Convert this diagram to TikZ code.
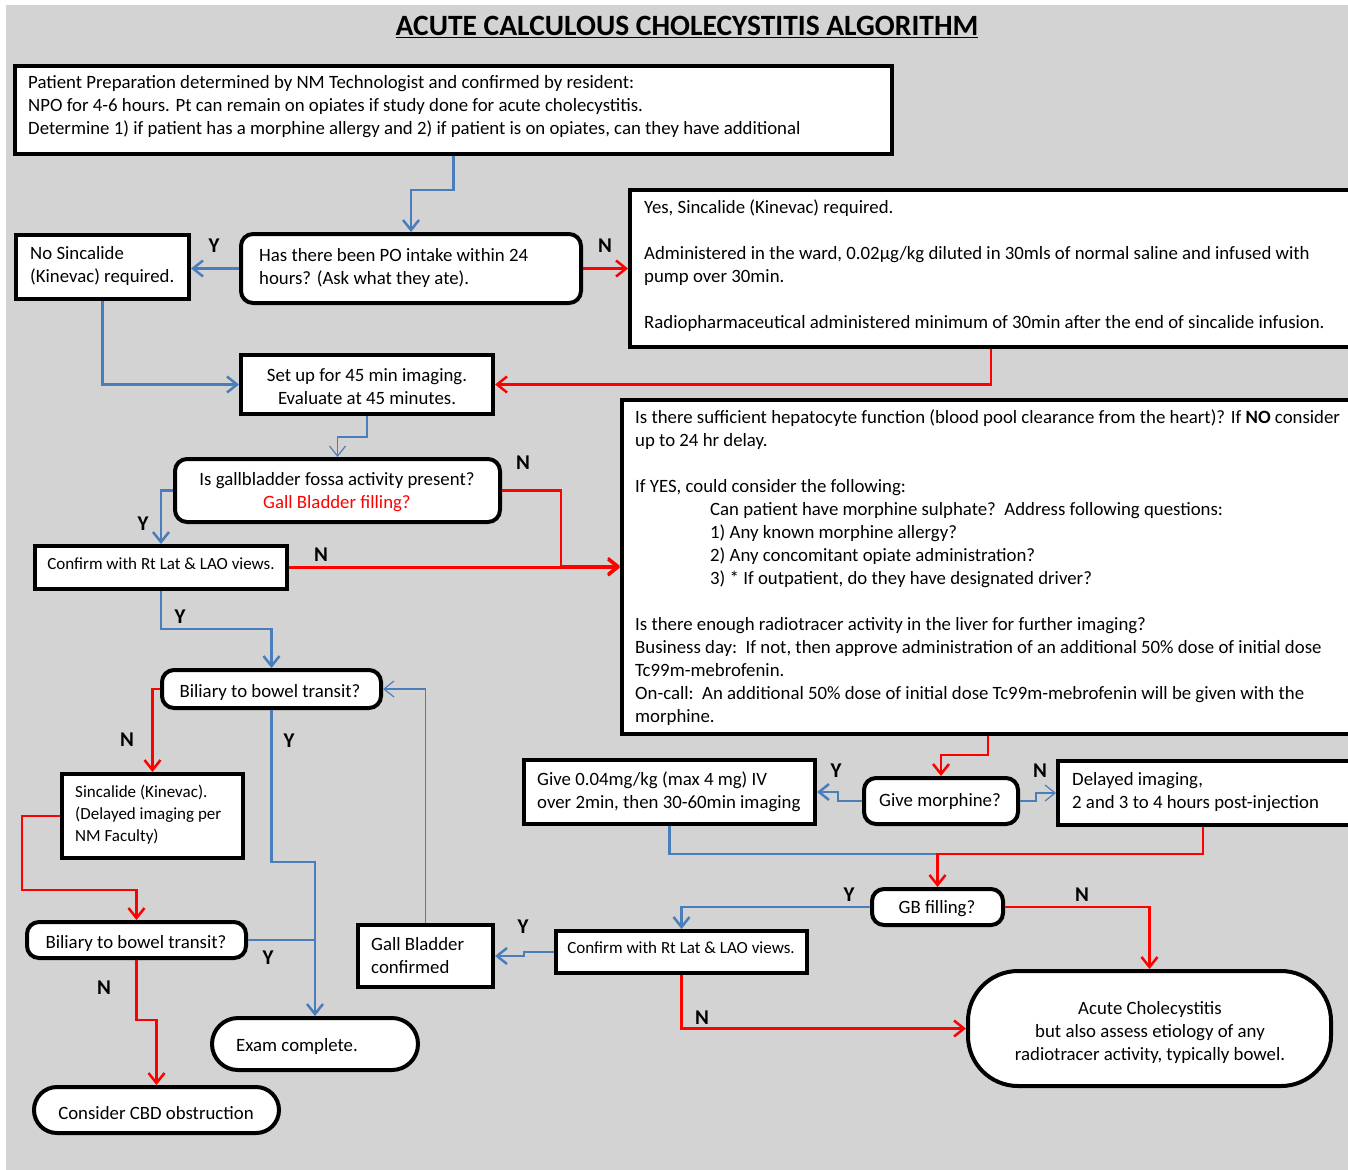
\documentclass[tikz,border=0pt]{standalone}
\usepackage{fontspec}
\setmainfont{Carlito}
\usetikzlibrary{arrows.meta}
\definecolor{bgc}{HTML}{D3D3D3}
\definecolor{lblue}{HTML}{4A7EBB}
\definecolor{lred}{HTML}{FF0000}
\begin{document}
\begin{tikzpicture}[x=1pt,y=-1pt,
  boxs/.style={draw=black, line width=4pt, fill=white, inner sep=0pt},
  rboxs/.style={boxs, rounded corners=12pt},
  tx/.style={inner sep=0pt, yshift=-2pt, font=\fontsize{18.8}{23}\selectfont},
  txs/.style={inner sep=0pt, yshift=-1pt, font=\fontsize{17}{22}\selectfont},
  lab/.style={inner sep=0pt, font=\fontsize{21}{24}\selectfont\bfseries},
  tip/.style={-{Straight Barb[length=10pt,width=16pt]}},
  bl/.style={draw=lblue, line width=2.5pt, tip},
  bln/.style={draw=lblue, line width=2.5pt},
  blt/.style={draw=lblue, line width=1.2pt, tip},
  rd/.style={draw=lred, line width=2.5pt, tip},
  rdn/.style={draw=lred, line width=2.5pt}
]
\useasboundingbox (0,0) rectangle (1348,1169);
\fill[bgc] (6,5) rectangle (1360,1180);

% title
\node[inner sep=0pt, font=\fontsize{29.5}{32}\selectfont\bfseries] (title) at (687,27) {\underline{ACUTE CALCULOUS CHOLECYSTITIS ALGORITHM}};

% boxes
\node[boxs, minimum width=877pt, minimum height=88pt] (prep) at (453.5,110) {};
\node[tx, anchor=west, align=left] (prept) at (28,105) {Patient Preparation determined by NM Technologist and confirmed by resident:\\ NPO for 4-6 hours. Pt can remain on opiates if study done for acute cholecystitis.\\ Determine 1) if patient has a morphine allergy and 2) if patient is on opiates, can they have additional};

\node[rboxs, minimum width=340pt, minimum height=69pt] (po) at (411,268.5) {};
\node[tx, anchor=west, align=left] (pot) at (259,265.5) {Has there been PO intake within 24\\ hours? (Ask what they ate).};

\node[boxs, minimum width=173pt, minimum height=64pt] (nosinc) at (102.5,267) {};
\node[tx, anchor=west, align=left] (nosinct) at (30,263.5) {No Sincalide\\ (Kinevac) required.};

\node[boxs, minimum width=740pt, minimum height=157pt] (yessinc) at (1000,268.5) {};
\node[tx, anchor=west, align=left] (yessinct) at (644,264) {Yes, Sincalide (Kinevac) required.\\[23pt] Administered in the ward, 0.02µg/kg diluted in 30mls of normal saline and infused with\\ pump over 30min.\\[23pt] Radiopharmaceutical administered minimum of 30min after the end of sincalide infusion.};

\node[boxs, minimum width=252pt, minimum height=59pt] (setup) at (367,384.5) {};
\node[tx, align=center] (setupt) at (367,384.5) {Set up for 45 min imaging.\\ Evaluate at 45 minutes.};

\node[rboxs, minimum width=325pt, minimum height=63pt] (gbq) at (337.5,490.5) {};
\node[tx, align=center] (gbqt) at (337,490.5) {Is gallbladder fossa activity present?\\ \textcolor{lred}{Gall Bladder filling?}};

\node[boxs, minimum width=252pt, minimum height=43pt] (conf1) at (161,567.5) {};
\node[txs] (conf1t) at (161,563) {Confirm with Rt Lat \& LAO views.};

\node[boxs, minimum width=748pt, minimum height=334pt] (big) at (996,567) {};
\node[tx, anchor=west, align=left] (bigt) at (635,566) {Is there sufficient hepatocyte function (blood pool clearance from the heart)? If \textbf{NO} consider\\ up to 24 hr delay.\\[23pt] If YES, could consider the following:\\ \hspace*{75pt}Can patient have morphine sulphate?\ \ Address following questions:\\ \hspace*{75pt}1) Any known morphine allergy?\\ \hspace*{75pt}2) Any concomitant opiate administration?\\ \hspace*{75pt}3) * If outpatient, do they have designated driver?\\[23pt] Is there enough radiotracer activity in the liver for further imaging?\\ Business day:\ \ If not, then approve administration of an additional 50\% dose of initial dose\\ Tc99m-mebrofenin.\\ On-call:\ \ An additional 50\% dose of initial dose Tc99m-mebrofenin will be given with the\\ morphine.};

\node[rboxs, minimum width=219pt, minimum height=38pt] (bil1) at (271.5,689) {};
\node[tx] (bil1t) at (270,690) {Biliary to bowel transit?};

\node[boxs, minimum width=181pt, minimum height=84pt] (sinc2) at (152.5,816) {};
\node[txs, anchor=west, align=left] (sinc2t) at (75,813.5) {Sincalide (Kinevac).\\ (Delayed imaging per\\ NM Faculty)};

\node[rboxs, minimum width=219pt, minimum height=36pt] (bil2) at (136.5,940) {};
\node[tx] (bil2t) at (136,941) {Biliary to bowel transit?};

\node[boxs, rounded corners=26pt, minimum width=206pt, minimum height=52pt] (exam) at (315,1044) {};
\node[tx, anchor=west] (examt) at (236,1044) {Exam complete.};

\node[boxs, rounded corners=23pt, minimum width=245pt, minimum height=46pt] (cbd) at (156.5,1110) {};
\node[tx] (cbdt) at (156,1111) {Consider CBD obstruction};

\node[boxs, minimum width=135pt, minimum height=62pt] (gbconf) at (425.5,956) {};
\node[tx, anchor=west, align=left] (gbconft) at (371,953.5) {Gall Bladder\\ confirmed};

\node[boxs, minimum width=251pt, minimum height=42pt] (conf2) at (681.5,952) {};
\node[txs] (conf2t) at (681,947) {Confirm with Rt Lat \& LAO views.};

\node[boxs, minimum width=291pt, minimum height=64pt] (give) at (669.5,792) {};
\node[tx, anchor=west, align=left] (givet) at (537,789.5) {Give 0.04mg/kg (max 4 mg) IV\\ over 2min, then 30-60min imaging};

\node[rboxs, minimum width=154pt, minimum height=46pt] (morph) at (941,801) {};
\node[tx] (morpht) at (940,799) {Give morphine?};

\node[boxs, minimum width=312pt, minimum height=64pt] (delayed) at (1214,793) {};
\node[tx, anchor=west, align=left] (delayedt) at (1072,790.5) {Delayed imaging,\\ 2 and 3 to 4 hours post-injection};

\node[rboxs, minimum width=131pt, minimum height=36pt] (gbf) at (937.5,907) {};
\node[tx] (gbft) at (937,907) {GB filling?};

\node[boxs, rounded corners=50pt, minimum width=363pt, minimum height=115pt] (acute) at (1149.5,1028.5) {};
\node[tx, align=center] (acutet) at (1150,1030) {Acute Cholecystitis\\ but also assess etiology of any\\ radiotracer activity, typically bowel.};

% connectors
\draw[bl] (prep.south) -- (prep.south |- 0,190) -| (po.north);
\draw[bl] (po.west) -- (po.west -| nosinc.east);
\draw[rd] (po.east) -- (po.east -| yessinc.west);
\draw[bl] (nosinc.south) |- (setup.west);
\draw[rd] (yessinc.south -| 991,0) |- (setup.east);
\draw[blt] (setup.south) -- (setup.south |- 0,437) -| (gbq.north);
\draw[bl] (gbq.west) -| (conf1.north);
\draw[rd] (gbq.east) -| (561,566) -- (big.west |- 0,566);
\draw[rd] (conf1.east) -- (conf1.east -| big.west);
\draw[bl] (conf1.south) -- (conf1.south |- 0,629) -| (bil1.north);
\draw[blt] (gbconf.north) |- (bil1.east);
\draw[rd] (bil1.west) -| (sinc2.north);
\draw[bl] (bil1.south) -- (bil1.south |- 0,862) -| (exam.north);
\draw[rd] (sinc2.west) -| (22,890) -| (bil2.north);
\draw[bln] (bil2.east) -- (bil2.east -| exam.north);
\draw[rd] (bil2.south) -- (bil2.south |- 0,1020) -| (cbd.north);
\draw[rd] (big.south -| 988,0) -- (988,755) -| (morph.north);
\draw[bl] (morph.west) -- (838,801) |- (give.east);
\draw[blt] (morph.east) -- (1036,801) |- (delayed.west);
\draw[bln] (give.south) |- (gbf.north |- 0,854);
\draw[rd] (delayed.south -| 1203,0) |- (gbf.north |- 0,854) -- (gbf.north);
\draw[bl] (gbf.west) -| (conf2.north);
\draw[rd] (gbf.east) -| (acute.north);
\draw[bl] (conf2.west) -- (524,952) |- (gbconf.east);
\draw[rd] (conf2.south) |- (acute.west);

% labels
\node[lab] (l1) at (214,246) {Y};
\node[lab] (l2) at (605,246) {N};
\node[lab] (l3) at (143,524) {Y};
\node[lab] (l4) at (523,463) {N};
\node[lab] (l5) at (321,555) {N};
\node[lab] (l6) at (180,617) {Y};
\node[lab] (l7) at (127,740) {N};
\node[lab] (l8) at (289,741) {Y};
\node[lab] (l9) at (268,958) {Y};
\node[lab] (l10) at (104,988) {N};
\node[lab] (l11) at (836,771) {Y};
\node[lab] (l12) at (1040,771) {N};
\node[lab] (l13) at (849,895) {Y};
\node[lab] (l14) at (1082,895) {N};
\node[lab] (l15) at (523,927) {Y};
\node[lab] (l16) at (702,1018) {N};
\end{tikzpicture}
\end{document}
